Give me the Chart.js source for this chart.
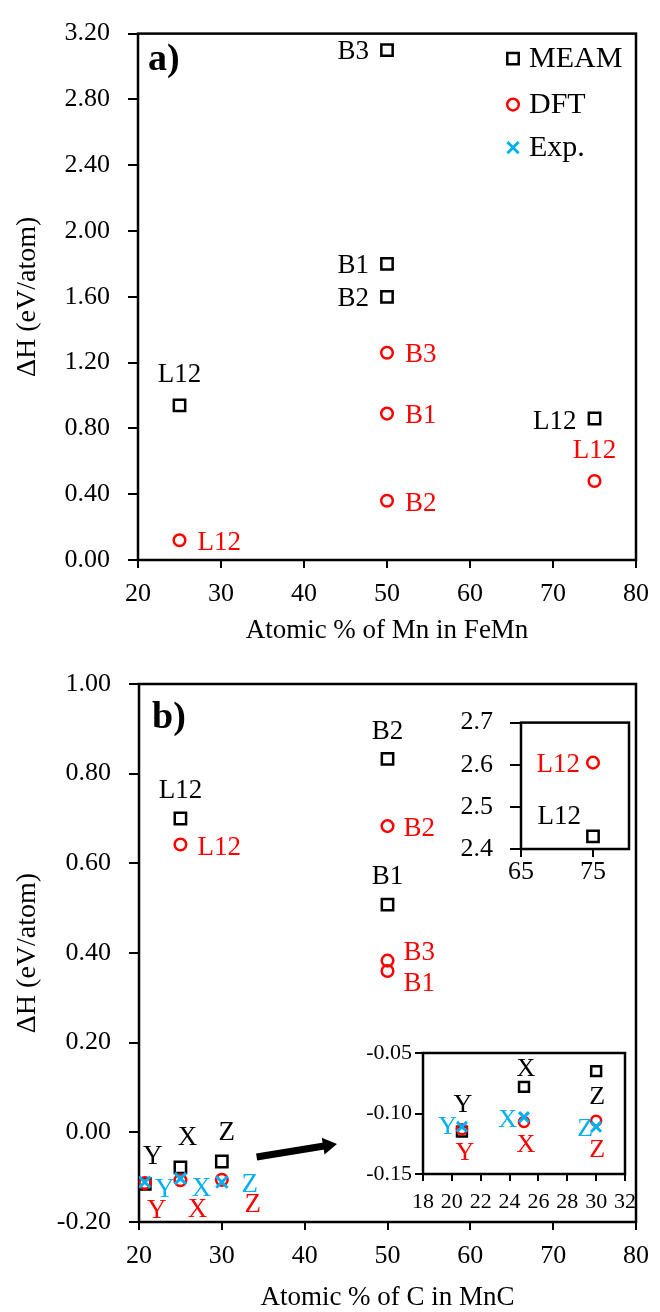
<!DOCTYPE html>
<html>
<head>
<meta charset="utf-8">
<script src="https://cdn.jsdelivr.net/npm/chart.js@4.4.1/dist/chart.umd.min.js"></script>
<style>
  html, body { margin: 0; padding: 0; background: #fff; }
  #wrap { position: relative; width: 660px; height: 1312px; overflow: hidden; background: #fff; }
  canvas { position: absolute; }
</style>
</head>
<body>
<div id="wrap">
  <canvas id="chartFeMn" width="660" height="650" style="left:0;top:0"></canvas>
  <canvas id="chartMnC" width="660" height="672" style="left:0;top:640px"></canvas>
  <canvas id="insetHigh" width="225" height="200" style="left:420px;top:690px"></canvas>
  <canvas id="insetLow" width="310" height="200" style="left:340px;top:1030px"></canvas>
</div>
<script>
// ---------- (a) Fe–Mn: formation enthalpy vs. at.% Mn ----------
const feMnMeamX = [25, 50, 50, 50, 75];
const feMnMeamY = [0.94, 3.10, 1.80, 1.60, 0.86];
const feMnMeamNames = ['L12', 'B3', 'B1', 'B2', 'L12'];
const feMnDftX = [25, 50, 50, 50, 75];
const feMnDftY = [0.12, 1.26, 0.89, 0.36, 0.48];
const feMnDftNames = ['L12', 'B3', 'B1', 'B2', 'L12'];
const feMnXTicks = [20, 30, 40, 50, 60, 70, 80];
const feMnYTicks = [0, 0.4, 0.8, 1.2, 1.6, 2.0, 2.4, 2.8, 3.2];

// ---------- (b) Mn–C: formation enthalpy vs. at.% C ----------
const mnCMeamX = [25, 50, 50, 20.7, 25, 30];
const mnCMeamY = [0.70, 0.833, 0.508, -0.115, -0.078, -0.065];
const mnCMeamNames = ['L12', 'B2', 'B1', 'Y', 'X', 'Z'];
const mnCDftX = [25, 50, 50, 50, 20.7, 25, 30];
const mnCDftY = [0.642, 0.683, 0.383, 0.360, -0.113, -0.107, -0.106];
const mnCDftNames = ['L12', 'B2', 'B3', 'B1', 'Y', 'X', 'Z'];
const mnCExpX = [20.7, 25, 30];
const mnCExpY = [-0.111, -0.103, -0.111];
const mnCExpNames = ['Y', 'X', 'Z'];
const mnCXTicks = [20, 30, 40, 50, 60, 70, 80];
const mnCYTicks = [-0.2, 0, 0.2, 0.4, 0.6, 0.8, 1.0];

// L12 at 75 % C lies far above the main range
const mnC75MeamX = [75];
const mnC75MeamY = [2.43];
const mnC75DftX = [75];
const mnC75DftY = [2.605];
const mnC75Names = ['L12'];
const highXTicks = [65, 75];
const highYTicks = [2.4, 2.5, 2.6, 2.7];

// carbides Y (Mn23C6), X (Mn3C), Z (Mn7C3) enlarged
const lowXTicks = [18, 20, 22, 24, 26, 28, 30, 32];
const lowYTicks = [-0.15, -0.10, -0.05];

// arrow from the carbide cluster toward the enlarged view (data units)
const arrowFrom = [34.2, -0.055];
const arrowTo = [43.9, -0.026];

// ---------- styling ----------
const SERIF = "'Liberation Serif', 'Times New Roman', serif";
Chart.defaults.font.family = SERIF;
Chart.defaults.color = '#000';
const BLACK = '#000000', RED = '#ff0000', CYAN = '#00b0f0';

function pts(xs, ys, keep) {
  const out = [];
  xs.forEach((x, i) => { if (!keep || keep(x, ys[i])) out.push({ x: x, y: ys[i] }); });
  return out;
}
function pick(arr, xs, ys, keep) {
  return arr.filter((v, i) => !keep || keep(xs[i], ys[i]));
}

function meamSet(data, names, place, size, font) {
  return { label: 'MEAM', data, names, place, labelColor: BLACK, labelFont: font,
    pointStyle: 'rect', radius: size, borderColor: BLACK, backgroundColor: 'rgba(0,0,0,0)',
    borderWidth: 2.5, order: 2, showLine: false };
}
function dftSet(data, names, place, size, font) {
  return { label: 'DFT', data, names, place, labelColor: RED, labelFont: font,
    pointStyle: 'circle', radius: size, borderColor: RED, backgroundColor: 'rgba(0,0,0,0)',
    borderWidth: 2.5, order: 1, showLine: false };
}
function expSet(data, names, place, size, font) {
  return { label: 'Exp.', data, names, place, labelColor: CYAN, labelFont: font,
    pointStyle: 'crossRot', radius: size, borderColor: CYAN, backgroundColor: CYAN,
    borderWidth: 3, order: 0, showLine: false };
}

// ---------- plugins ----------
const framePlugin = {
  id: 'frame',
  beforeDatasetsDraw(chart, args, opts) {
    const a = chart.chartArea, ctx = chart.ctx;
    ctx.save();
    ctx.strokeStyle = '#000';
    ctx.lineWidth = opts.width || 2.5;
    ctx.strokeRect(a.left, a.top, a.right - a.left, a.bottom - a.top);
    ctx.restore();
  }
};

const pointLabelPlugin = {
  id: 'pointLabels',
  afterDatasetsDraw(chart) {
    const ctx = chart.ctx;
    chart.data.datasets.forEach((ds, i) => {
      if (!ds.names) return;
      const meta = chart.getDatasetMeta(i);
      ctx.save();
      ctx.font = ds.labelFont;
      ctx.fillStyle = ds.labelColor;
      ctx.textBaseline = 'middle';
      meta.data.forEach((el, j) => {
        const p = ds.place[j];
        if (!p) return;
        ctx.textAlign = p[2];
        ctx.fillText(ds.names[j], el.x + p[0], el.y + p[1]);
      });
      ctx.restore();
    });
  }
};

const panelTagPlugin = {
  id: 'panelTag',
  afterDraw(chart, args, opts) {
    if (!opts.text) return;
    const a = chart.chartArea, ctx = chart.ctx;
    ctx.save();
    ctx.font = 'bold 38px ' + SERIF;
    ctx.fillStyle = '#000';
    ctx.textAlign = 'left';
    ctx.textBaseline = 'middle';
    ctx.fillText(opts.text, a.left + opts.dx, a.top + opts.dy);
    ctx.restore();
  }
};

function drawMarker(ctx, style, x, y) {
  ctx.beginPath();
  if (style === 'rect') {
    ctx.strokeStyle = BLACK; ctx.lineWidth = 2.5;
    ctx.rect(x - 5.7, y - 5.7, 11.4, 11.4);
  } else if (style === 'circle') {
    ctx.strokeStyle = RED; ctx.lineWidth = 2.5;
    ctx.arc(x, y, 5.8, 0, Math.PI * 2);
  } else {
    ctx.strokeStyle = CYAN; ctx.lineWidth = 3;
    ctx.moveTo(x - 5.6, y - 5.6); ctx.lineTo(x + 5.6, y + 5.6);
    ctx.moveTo(x + 5.6, y - 5.6); ctx.lineTo(x - 5.6, y + 5.6);
  }
  ctx.stroke();
}

const legendPlugin = {
  id: 'seriesKey',
  afterDraw(chart, args, opts) {
    if (!opts.show) return;
    const a = chart.chartArea, ctx = chart.ctx;
    const items = [['rect', 'MEAM'], ['circle', 'DFT'], ['crossRot', 'Exp.']];
    const rows = [25, 71, 114];
    ctx.save();
    items.forEach((it, k) => {
      const mx = a.right - 123, my = a.top + rows[k];
      drawMarker(ctx, it[0], mx, my);
      ctx.font = '30px ' + SERIF;
      ctx.fillStyle = '#000';
      ctx.textAlign = 'left';
      ctx.textBaseline = 'middle';
      ctx.fillText(it[1], mx + 16, my + 1);
    });
    ctx.restore();
  }
};

const arrowPlugin = {
  id: 'arrow',
  afterDatasetsDraw(chart, args, opts) {
    if (!opts.show) return;
    const xs = chart.scales.x, ys = chart.scales.y, ctx = chart.ctx;
    const x0 = xs.getPixelForValue(arrowFrom[0]), y0 = ys.getPixelForValue(arrowFrom[1]);
    const x1 = xs.getPixelForValue(arrowTo[0]), y1 = ys.getPixelForValue(arrowTo[1]);
    const ang = Math.atan2(y1 - y0, x1 - x0);
    const head = 14, half = 8.5;
    const bx = x1 - head * Math.cos(ang), by = y1 - head * Math.sin(ang);
    ctx.save();
    ctx.strokeStyle = '#000'; ctx.fillStyle = '#000';
    ctx.lineWidth = 7;
    ctx.beginPath(); ctx.moveTo(x0, y0); ctx.lineTo(bx + Math.cos(ang), by + Math.sin(ang)); ctx.stroke();
    ctx.beginPath();
    ctx.moveTo(x1, y1);
    ctx.lineTo(bx - half * Math.sin(ang), by + half * Math.cos(ang));
    ctx.lineTo(bx + half * Math.sin(ang), by - half * Math.cos(ang));
    ctx.closePath(); ctx.fill();
    ctx.restore();
  }
};

// ---------- chart factory ----------
function axis(o) {
  return {
    type: 'linear', min: o.min, max: o.max,
    afterBuildTicks: s => { s.ticks = o.ticks.map(v => ({ value: v })); },
    afterFit: s => { if (o.horizontal) s.height = o.size; else s.width = o.size; },
    ticks: { font: { size: o.font, family: SERIF }, color: '#000', padding: o.pad,
      maxRotation: 0, autoSkip: false, callback: v => v.toFixed(o.dec) },
    grid: { drawOnChartArea: false, drawTicks: true, tickLength: o.tick, color: '#000', lineWidth: 2 },
    border: { display: false },
    title: o.title ? { display: true, text: o.title, font: { size: o.titleSize, family: SERIF },
      color: '#000', padding: o.titlePad } : { display: false }
  };
}

function makeChart(id, datasets, cfg) {
  return new Chart(document.getElementById(id), {
    type: 'scatter',
    data: { datasets },
    options: {
      responsive: false, animation: false, events: [],
      layout: { padding: cfg.padding },
      plugins: {
        legend: { display: false }, tooltip: { enabled: false },
        frame: { width: cfg.frameWidth || 2.5 },
        panelTag: cfg.tag || {},
        seriesKey: { show: !!cfg.key },
        arrow: { show: !!cfg.arrow }
      },
      scales: { x: axis(cfg.x), y: axis(cfg.y) }
    },
    plugins: [framePlugin, pointLabelPlugin, panelTagPlugin, legendPlugin, arrowPlugin]
  });
}

const F27 = '27px ' + SERIF, F26 = '26px ' + SERIF;

// label placement [dx, dy, textAlign] relative to each marker
const feMnMeamPlace = [[0, -30, 'center'], [-18, 2, 'right'], [-18, 2, 'right'], [-18, 2, 'right'], [-18, 3, 'right']];
const feMnDftPlace = [[18, 3, 'left'], [18, 2, 'left'], [18, 2, 'left'], [18, 3, 'left'], [0, -30, 'center']];

makeChart('chartFeMn', [
  expSet([], [], [], 8, F27),
  dftSet(pts(feMnDftX, feMnDftY), feMnDftNames, feMnDftPlace, 5.8, F27),
  meamSet(pts(feMnMeamX, feMnMeamY), feMnMeamNames, feMnMeamPlace, 8, F27)
], {
  padding: { top: 22, right: 18, left: 0, bottom: 0 },
  tag: { text: 'a)', dx: 10, dy: 27 },
  key: true,
  x: { horizontal: true, size: 90, min: 20, max: 80, ticks: feMnXTicks, font: 26, pad: 11, tick: 8, dec: 0,
       title: 'Atomic % of Mn in FeMn', titleSize: 27, titlePad: { top: 0, bottom: 3 } },
  y: { horizontal: false, size: 138, min: 0, max: 3.2, ticks: feMnYTicks, font: 26, pad: 18, tick: 10, dec: 2,
       title: '\u0394H (eV/atom)', titleSize: 28, titlePad: { top: 11, bottom: 0 } }
});

const mnCMeamPlace = [[0, -28, 'center'], [0, -27, 'center'], [0, -28, 'center'], [8, -27, 'center'], [7, -29, 'center'], [5, -29, 'center']];
const mnCDftPlace = [[17, 3, 'left'], [16, 3, 'left'], [16, -8, 'left'], [16, 13, 'left'], [12, 28, 'center'], [17, 30, 'center'], [31, 25, 'center']];
const mnCExpPlace = [[20, 8, 'center'], [21, 10, 'center'], [28, 3, 'center']];

makeChart('chartMnC', [
  expSet(pts(mnCExpX, mnCExpY), mnCExpNames, mnCExpPlace, 8, F27),
  dftSet(pts(mnCDftX, mnCDftY), mnCDftNames, mnCDftPlace, 5.8, F27),
  meamSet(pts(mnCMeamX, mnCMeamY), mnCMeamNames, mnCMeamPlace, 8, F27)
], {
  padding: { top: 44, right: 18, left: 0, bottom: 0 },
  tag: { text: 'b)', dx: 13, dy: 34 },
  arrow: true,
  x: { horizontal: true, size: 90, min: 20, max: 80, ticks: mnCXTicks, font: 26, pad: 11, tick: 8, dec: 0,
       title: 'Atomic % of C in MnC', titleSize: 27, titlePad: { top: 0, bottom: -2 } },
  y: { horizontal: false, size: 139, min: -0.2, max: 1.0, ticks: mnCYTicks, font: 26, pad: 18, tick: 10, dec: 2,
       title: '\u0394H (eV/atom)', titleSize: 28, titlePad: { top: 11, bottom: 0 } }
});

makeChart('insetHigh', [
  dftSet(pts(mnC75DftX, mnC75DftY), mnC75Names, [[-13, 2, 'right']], 5.8, F27),
  meamSet(pts(mnC75MeamX, mnC75MeamY), mnC75Names, [[-12, -19, 'right']], 8, F27)
], {
  padding: { top: 19, right: 16, left: 0, bottom: 0 },
  x: { horizontal: true, size: 41, min: 65, max: 80, ticks: highXTicks, font: 26, pad: 0, tick: 8, dec: 0 },
  y: { horizontal: false, size: 101, min: 2.4, max: 2.7, ticks: highYTicks, font: 26, pad: 17, tick: 11, dec: 1 }
});

// only the carbide compositions below zero go into the enlarged view
const carbide = (x, y) => x < 35 && y < 0;
const lowMeamPlace = [[1, -26, 'center'], [2, -18, 'center'], [1, 26, 'center']];
const lowDftPlace = [[3, 24, 'center'], [2, 23, 'center'], [1, 29, 'center']];
const lowExpPlace = [[-5, 0, 'right'], [-7, 3, 'right'], [-3, 2, 'right']];

makeChart('insetLow', [
  expSet(pts(mnCExpX, mnCExpY, carbide), pick(mnCExpNames, mnCExpX, mnCExpY, carbide), lowExpPlace, 7, F26),
  dftSet(pts(mnCDftX, mnCDftY, carbide), pick(mnCDftNames, mnCDftX, mnCDftY, carbide), lowDftPlace, 5, F26),
  meamSet(pts(mnCMeamX, mnCMeamY, carbide), pick(mnCMeamNames, mnCMeamX, mnCMeamY, carbide), lowMeamPlace, 7, F26)
], {
  padding: { top: 23, right: 25, left: 0, bottom: 0 },
  x: { horizontal: true, size: 56, min: 18, max: 32, ticks: lowXTicks, font: 22, pad: 8, tick: 7, dec: 0 },
  y: { horizontal: false, size: 83, min: -0.15, max: -0.05, ticks: lowYTicks, font: 22, pad: 3, tick: 8, dec: 2 }
});
</script>
</body>
</html>
